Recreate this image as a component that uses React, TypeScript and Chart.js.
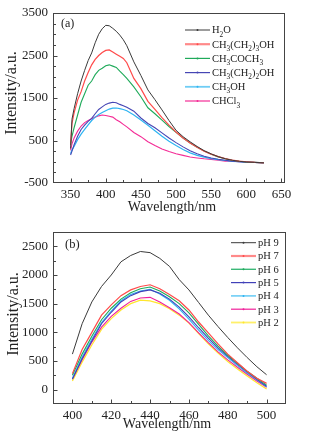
import React, { useEffect, useRef } from 'react';
import { Chart, registerables } from 'chart.js';

Chart.register(...registerables);

// ---------- Panel (a): solvents ----------
const wlA = [350, 352, 355, 360, 365, 370, 375, 380, 385, 390, 395, 400, 405, 410, 415, 420, 425, 430, 440, 450, 460, 470, 480, 490, 500, 510, 520, 530, 540, 550, 560, 570, 580, 590, 600, 612, 625];
const h2o = [310, 1000, 1250, 1600, 1900, 2150, 2380, 2560, 2800, 3000, 3130, 3210, 3200, 3140, 3070, 2980, 2870, 2730, 2350, 2030, 1690, 1460, 1220, 970, 740, 590, 470, 360, 260, 185, 120, 70, 35, 10, -5, -15, -25];
const butanol = [400, 900, 1150, 1450, 1650, 1900, 2100, 2280, 2410, 2500, 2570, 2620, 2630, 2580, 2530, 2480, 2430, 2330, 1960, 1720, 1420, 1230, 1040, 860, 700, 560, 440, 340, 250, 180, 120, 75, 40, 15, 0, -15, -25];
const acetone = [390, 600, 800, 1100, 1400, 1600, 1800, 1900, 2050, 2150, 2200, 2260, 2280, 2250, 2220, 2130, 2050, 1960, 1760, 1530, 1270, 1130, 980, 830, 690, 560, 440, 340, 250, 175, 115, 70, 35, 10, -5, -15, -25];
const propanol = [160, 250, 400, 600, 760, 860, 950, 1020, 1130, 1230, 1290, 1350, 1380, 1400, 1390, 1350, 1320, 1280, 1190, 1030, 900, 800, 680, 560, 450, 350, 260, 190, 130, 90, 60, 35, 15, 0, -10, -18, -25];
const methanol = [190, 280, 360, 520, 650, 760, 870, 970, 1050, 1110, 1160, 1200, 1240, 1260, 1265, 1250, 1230, 1200, 1100, 980, 860, 730, 600, 480, 380, 290, 210, 150, 110, 75, 50, 30, 10, 0, -10, -18, -25];
const chloroform = [270, 420, 560, 720, 840, 920, 970, 1010, 1050, 1080, 1100, 1090, 1070, 1050, 990, 940, 880, 820, 690, 590, 470, 380, 300, 240, 190, 150, 110, 90, 70, 55, 35, 15, 10, 0, -5, -15, -25];
const solventNames = ['H_2O', 'CH_3(CH_2)_3OH', 'CH_3COCH_3', 'CH_3(CH_2)_2OH', 'CH_3OH', 'CHCl_3'];

// ---------- Panel (b): pH ----------
const wlB = [400, 405, 410, 415, 420, 425, 430, 435, 440, 445, 450, 455, 460, 465, 470, 475, 480, 485, 490, 495, 500];
const ph9 = [620, 1150, 1530, 1800, 2000, 2230, 2340, 2410, 2390, 2290, 2150, 1920, 1740, 1520, 1300, 1100, 910, 730, 560, 400, 260];
const ph7 = [280, 700, 1000, 1300, 1480, 1640, 1740, 1800, 1830, 1760, 1660, 1550, 1390, 1180, 990, 800, 620, 470, 320, 200, 110];
const ph6 = [250, 620, 930, 1220, 1420, 1580, 1690, 1760, 1790, 1720, 1620, 1500, 1340, 1140, 940, 760, 600, 460, 320, 200, 80];
const ph5 = [180, 540, 850, 1150, 1350, 1530, 1640, 1710, 1740, 1680, 1580, 1440, 1270, 1080, 900, 730, 580, 440, 310, 180, 60];
const ph4 = [200, 570, 880, 1170, 1370, 1550, 1660, 1720, 1750, 1670, 1560, 1410, 1230, 1040, 860, 700, 560, 420, 290, 170, 50];
const ph3 = [190, 520, 830, 1090, 1280, 1420, 1540, 1600, 1610, 1530, 1430, 1320, 1170, 990, 820, 660, 520, 390, 270, 150, 40];
const ph2 = [150, 480, 780, 1050, 1240, 1390, 1500, 1560, 1550, 1500, 1410, 1300, 1160, 980, 800, 640, 490, 360, 240, 120, 10];
const phNames = ['pH 9', 'pH 7', 'pH 6', 'pH 5', 'pH 4', 'pH 3', 'pH 2'];

const FONT = '"Liberation Serif", "Times New Roman", serif';
const TEXT = '#222';

type Series = { name: string; values: number[]; color: string; width: number; legendColor: string; legendWidth: number };

type Spec = {
  xs: number[];
  series: Series[];
  xMin: number; xMax: number; xStep: number; xLabel: (v: number) => boolean;
  yMin: number; yMax: number; yStep: number; yLabel: (v: number) => boolean;
  top: number; right: number; xAxisH: number;
  yTitle: [number, number]; xTitle: [number, number];
  tag: string; tagPos: [number, number]; tagSize: number;
  legX: number; legY: number; legDy: number; legSize: number;
};

function drawRich(ctx: CanvasRenderingContext2D, text: string, x: number, baseline: number, size: number) {
  let cx = x;
  for (let i = 0; i < text.length; i++) {
    const ch = text[i];
    if (ch === '_' && i + 1 < text.length) {
      const s = text[i + 1];
      ctx.font = `${size * 0.7}px ${FONT}`;
      ctx.fillText(s, cx, baseline + size * 0.3);
      cx += ctx.measureText(s).width;
      i++;
    } else {
      ctx.font = `${size}px ${FONT}`;
      ctx.fillText(ch, cx, baseline);
      cx += ctx.measureText(ch).width;
    }
  }
}

function makeDecor(spec: Spec) {
  return {
    id: 'decor',
    afterDraw(chart: any) {
      const ctx: CanvasRenderingContext2D = chart.ctx;
      const a = chart.chartArea;
      const xs = chart.scales.x;
      const ys = chart.scales.y;
      ctx.save();
      // frame
      ctx.strokeStyle = '#444';
      ctx.lineWidth = 1;
      const L = Math.round(a.left) + 0.5, R = Math.round(a.right) - 0.5;
      const T = Math.round(a.top) + 0.5, B = Math.round(a.bottom) - 0.5;
      ctx.strokeRect(L, T, R - L, B - T);
      // inward tick marks
      ctx.beginPath();
      xs.ticks.forEach((t: any) => {
        const p = Math.round(xs.getPixelForValue(t.value)) + 0.5;
        if (p <= L + 1 || p >= R - 1) return;
        const len = spec.xLabel(t.value) ? 4 : 2.5;
        ctx.moveTo(p, B);
        ctx.lineTo(p, B - len);
      });
      ys.ticks.forEach((t: any) => {
        const p = Math.round(ys.getPixelForValue(t.value)) + 0.5;
        if (p <= T + 1 || p >= B - 1) return;
        const len = spec.yLabel(t.value) ? 4 : 2.5;
        ctx.moveTo(L, p);
        ctx.lineTo(L + len, p);
      });
      ctx.stroke();
      // titles
      ctx.fillStyle = TEXT;
      ctx.textAlign = 'center';
      ctx.textBaseline = 'middle';
      ctx.font = `14px ${FONT}`;
      ctx.fillText('Wavelength/nm', spec.xTitle[0], spec.xTitle[1]);
      ctx.save();
      ctx.translate(spec.yTitle[0], spec.yTitle[1]);
      ctx.rotate(-Math.PI / 2);
      ctx.font = `16px ${FONT}`;
      ctx.fillText('Intensity/a.u.', 0, 0);
      ctx.restore();
      // panel tag
      ctx.textAlign = 'left';
      ctx.font = `${spec.tagSize}px ${FONT}`;
      ctx.fillText(spec.tag, spec.tagPos[0], spec.tagPos[1]);
      // legend
      ctx.textBaseline = 'alphabetic';
      spec.series.forEach((s, i) => {
        const y = spec.legY + spec.legDy * i;
        ctx.strokeStyle = s.legendColor;
        ctx.lineWidth = s.legendWidth;
        ctx.beginPath();
        ctx.moveTo(spec.legX, y);
        ctx.lineTo(spec.legX + 25, y);
        ctx.stroke();
        ctx.fillStyle = s.color;
        ctx.beginPath();
        ctx.arc(spec.legX + 12.5, y, 1, 0, Math.PI * 2);
        ctx.fill();
        ctx.fillStyle = TEXT;
        drawRich(ctx, s.name, spec.legX + 27, y + spec.legSize * 0.33, spec.legSize);
      });
      ctx.restore();
    },
  };
}

function buildConfig(spec: Spec): any {
  const tickFont = { family: FONT, size: 13 };
  return {
    type: 'line',
    data: {
      datasets: spec.series.map((s) => ({
        label: s.name,
        data: spec.xs.map((x, i) => ({ x, y: s.values[i] })),
        borderColor: s.color,
        backgroundColor: s.color,
        borderWidth: s.width,
        pointRadius: 0,
        tension: 0,
        fill: false,
      })),
    },
    options: {
      responsive: false,
      animation: false,
      devicePixelRatio: 1,
      events: [],
      layout: { padding: { top: spec.top, right: spec.right, left: 0, bottom: 0 } },
      plugins: { legend: { display: false }, tooltip: { enabled: false } },
      scales: {
        x: {
          type: 'linear',
          min: spec.xMin,
          max: spec.xMax,
          border: { display: false },
          grid: { display: false, drawTicks: false },
          afterFit: (sc: any) => { sc.height = spec.xAxisH; },
          ticks: {
            stepSize: spec.xStep,
            includeBounds: false,
            autoSkip: false,
            maxRotation: 0,
            minRotation: 0,
            padding: 4,
            color: TEXT,
            font: tickFont,
            callback: (v: number) => (spec.xLabel(v) ? String(v) : ''),
          },
        },
        y: {
          type: 'linear',
          min: spec.yMin,
          max: spec.yMax,
          border: { display: false },
          grid: { display: false, drawTicks: false },
          afterFit: (sc: any) => { sc.width = 53; },
          ticks: {
            stepSize: spec.yStep,
            includeBounds: false,
            autoSkip: false,
            padding: 5,
            color: TEXT,
            font: tickFont,
            callback: (v: number) => (spec.yLabel(v) ? String(v) : ''),
          },
        },
      },
    },
    plugins: [makeDecor(spec)],
  };
}

const specA: Spec = {
  xs: wlA,
  series: [
    { name: solventNames[0], values: h2o, color: '#3a3a3a', width: 1, legendColor: '#3a3a3a', legendWidth: 1 },
    { name: solventNames[1], values: butanol, color: '#ff4a4a', width: 1.2, legendColor: '#ff8a8a', legendWidth: 2.2 },
    { name: solventNames[2], values: acetone, color: '#1faa5a', width: 1.1, legendColor: '#1faa5a', legendWidth: 1.2 },
    { name: solventNames[3], values: propanol, color: '#4646b4', width: 1.1, legendColor: '#4646b4', legendWidth: 1.2 },
    { name: solventNames[4], values: methanol, color: '#2eb4f2', width: 1.2, legendColor: '#6fcdf5', legendWidth: 1.8 },
    { name: solventNames[5], values: chloroform, color: '#f42c96', width: 1.1, legendColor: '#f42c96', legendWidth: 1.2 },
  ],
  xMin: 325, xMax: 655, xStep: 25, xLabel: (v) => v % 50 === 0,
  yMin: -500, yMax: 3500, yStep: 250, yLabel: (v) => (v + 500) % 1000 === 0,
  top: 13, right: 24, xAxisH: 34,
  yTitle: [12, 93], xTitle: [172, 207],
  tag: '(a)', tagPos: [61, 24], tagSize: 12,
  legX: 185, legY: 30, legDy: 14.2, legSize: 10.5,
};

const specB: Spec = {
  xs: wlB,
  series: [
    { name: phNames[0], values: ph9, color: '#3a3a3a', width: 1, legendColor: '#3a3a3a', legendWidth: 1 },
    { name: phNames[1], values: ph7, color: '#ff4a4a', width: 1.2, legendColor: '#ff8a8a', legendWidth: 2.2 },
    { name: phNames[2], values: ph6, color: '#1faa5a', width: 1.1, legendColor: '#3cb878', legendWidth: 1.4 },
    { name: phNames[3], values: ph5, color: '#4040b8', width: 1.1, legendColor: '#4040b8', legendWidth: 1.2 },
    { name: phNames[4], values: ph4, color: '#2eb4f2', width: 1.1, legendColor: '#6fcdf5', legendWidth: 1.6 },
    { name: phNames[5], values: ph3, color: '#f0209a', width: 1.1, legendColor: '#f0209a', legendWidth: 1.2 },
    { name: phNames[6], values: ph2, color: '#ffe62e', width: 1.2, legendColor: '#fff06a', legendWidth: 1.8 },
  ],
  xMin: 390, xMax: 510, xStep: 10, xLabel: (v) => v % 20 === 0,
  yMin: -250, yMax: 2750, yStep: 250, yLabel: (v) => v % 500 === 0,
  top: 15, right: 23, xAxisH: 30,
  yTitle: [14, 97], xTitle: [167, 207.5],
  tag: '(b)', tagPos: [65, 28], tagSize: 12.5,
  legX: 231, legY: 25.7, legDy: 13.3, legSize: 10.5,
};

function Panel({ spec, top }: { spec: Spec; top: number }) {
  const ref = useRef<HTMLCanvasElement | null>(null);
  useEffect(() => {
    if (!ref.current) return;
    const chart = new Chart(ref.current, buildConfig(spec));
    return () => chart.destroy();
  }, [spec]);
  return (
    <canvas
      ref={ref}
      width={309}
      height={217}
      style={{ position: 'absolute', left: 0, top, width: 309, height: 217, display: 'block' }}
    />
  );
}

export default function App() {
  return (
    <div style={{ position: 'absolute', left: 0, top: 0, width: 309, height: 434, background: '#fff' }}>
      <Panel spec={specA} top={0} />
      <Panel spec={specB} top={217} />
    </div>
  );
}
